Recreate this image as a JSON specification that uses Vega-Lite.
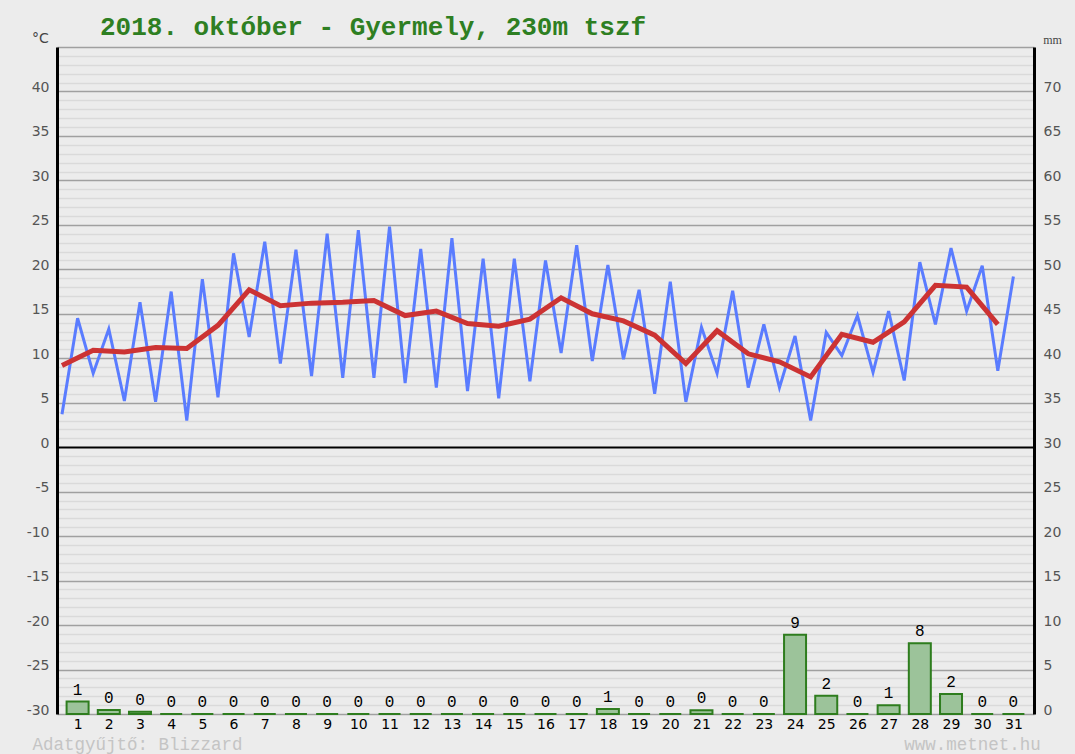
{
  "$schema": "https://vega.github.io/schema/vega-lite/v6.json",
  "width": 977,
  "height": 667,
  "autosize": {"type": "none"},
  "padding": {"left": 57, "top": 47, "right": 41, "bottom": 40},
  "background": "#ececec",
  "config": {"view": {"stroke": null}},
  "title": {
    "text": "2018. október - Gyermely, 230m tszf",
    "font": "Liberation Mono",
    "fontSize": 26,
    "fontWeight": "bold",
    "color": "#2e7f22",
    "anchor": "start",
    "frame": "group",
    "dx": 43,
    "offset": -9
  },
  "datasets": {
    "temps": [
      {"t": 0.5, "temp": 3.7}, {"t": 1, "temp": 14.5}, {"t": 1.5, "temp": 8.3}, {"t": 2, "temp": 13.3},
      {"t": 2.5, "temp": 5.2}, {"t": 3, "temp": 16.3}, {"t": 3.5, "temp": 5.1}, {"t": 4, "temp": 17.5},
      {"t": 4.5, "temp": 3.0}, {"t": 5, "temp": 18.9}, {"t": 5.5, "temp": 5.6}, {"t": 6, "temp": 21.8},
      {"t": 6.5, "temp": 12.4}, {"t": 7, "temp": 23.1}, {"t": 7.5, "temp": 9.4}, {"t": 8, "temp": 22.2},
      {"t": 8.5, "temp": 8.0}, {"t": 9, "temp": 24.0}, {"t": 9.5, "temp": 7.8}, {"t": 10, "temp": 24.4},
      {"t": 10.5, "temp": 7.8}, {"t": 11, "temp": 24.8}, {"t": 11.5, "temp": 7.2}, {"t": 12, "temp": 22.3},
      {"t": 12.5, "temp": 6.7}, {"t": 13, "temp": 23.5}, {"t": 13.5, "temp": 6.3}, {"t": 14, "temp": 21.2},
      {"t": 14.5, "temp": 5.5}, {"t": 15, "temp": 21.2}, {"t": 15.5, "temp": 7.4}, {"t": 16, "temp": 21.0},
      {"t": 16.5, "temp": 10.6}, {"t": 17, "temp": 22.7}, {"t": 17.5, "temp": 9.7}, {"t": 18, "temp": 20.5},
      {"t": 18.5, "temp": 9.9}, {"t": 19, "temp": 17.7}, {"t": 19.5, "temp": 6.0}, {"t": 20, "temp": 18.6},
      {"t": 20.5, "temp": 5.1}, {"t": 21, "temp": 13.5}, {"t": 21.5, "temp": 8.3}, {"t": 22, "temp": 17.6},
      {"t": 22.5, "temp": 6.7}, {"t": 23, "temp": 13.8}, {"t": 23.5, "temp": 6.7}, {"t": 24, "temp": 12.5},
      {"t": 24.5, "temp": 3.0}, {"t": 25, "temp": 12.9}, {"t": 25.5, "temp": 10.3}, {"t": 26, "temp": 14.8},
      {"t": 26.5, "temp": 8.4}, {"t": 27, "temp": 15.3}, {"t": 27.5, "temp": 7.5}, {"t": 28, "temp": 20.8},
      {"t": 28.5, "temp": 13.8}, {"t": 29, "temp": 22.4}, {"t": 29.5, "temp": 15.3}, {"t": 30, "temp": 20.4},
      {"t": 30.5, "temp": 8.6}, {"t": 31, "temp": 19.2}
    ],
    "means": [
      {"t": 0.5, "mean": 9.2}, {"t": 1.5, "mean": 10.9}, {"t": 2.5, "mean": 10.7}, {"t": 3.5, "mean": 11.2},
      {"t": 4.5, "mean": 11.1}, {"t": 5.5, "mean": 13.7}, {"t": 6.5, "mean": 17.7}, {"t": 7.5, "mean": 15.9},
      {"t": 8.5, "mean": 16.2}, {"t": 9.5, "mean": 16.3}, {"t": 10.5, "mean": 16.5}, {"t": 11.5, "mean": 14.8},
      {"t": 12.5, "mean": 15.3}, {"t": 13.5, "mean": 13.9}, {"t": 14.5, "mean": 13.6}, {"t": 15.5, "mean": 14.4},
      {"t": 16.5, "mean": 16.8}, {"t": 17.5, "mean": 15.0}, {"t": 18.5, "mean": 14.2}, {"t": 19.5, "mean": 12.6},
      {"t": 20.5, "mean": 9.4}, {"t": 21.5, "mean": 13.1}, {"t": 22.5, "mean": 10.5}, {"t": 23.5, "mean": 9.6},
      {"t": 24.5, "mean": 7.9}, {"t": 25.5, "mean": 12.7}, {"t": 26.5, "mean": 11.8}, {"t": 27.5, "mean": 14.1},
      {"t": 28.5, "mean": 18.2}, {"t": 29.5, "mean": 18.0}, {"t": 30.5, "mean": 13.8}
    ],
    "precip": [
      {"day": 1, "mm": 1.4}, {"day": 2, "mm": 0.45}, {"day": 3, "mm": 0.25}, {"day": 4, "mm": 0},
      {"day": 5, "mm": 0}, {"day": 6, "mm": 0}, {"day": 7, "mm": 0}, {"day": 8, "mm": 0},
      {"day": 9, "mm": 0}, {"day": 10, "mm": 0}, {"day": 11, "mm": 0}, {"day": 12, "mm": 0},
      {"day": 13, "mm": 0}, {"day": 14, "mm": 0}, {"day": 15, "mm": 0}, {"day": 16, "mm": 0},
      {"day": 17, "mm": 0}, {"day": 18, "mm": 0.56}, {"day": 19, "mm": 0}, {"day": 20, "mm": 0},
      {"day": 21, "mm": 0.42}, {"day": 22, "mm": 0}, {"day": 23, "mm": 0}, {"day": 24, "mm": 8.9},
      {"day": 25, "mm": 2.05}, {"day": 26, "mm": 0}, {"day": 27, "mm": 0.97}, {"day": 28, "mm": 7.95},
      {"day": 29, "mm": 2.25}, {"day": 30, "mm": 0}, {"day": 31, "mm": 0}
    ]
  },
  "layer": [
    {
      "layer": [
        {
          "data": {"name": "temps"},
          "mark": {"type": "line", "color": "#5a7cff", "strokeWidth": 3, "strokeJoin": "miter"},
          "encoding": {
            "x": {
              "field": "t", "type": "quantitative",
              "scale": {"domain": [0.5, 31.5], "nice": false, "zero": false},
              "axis": {
                "values": [1,2,3,4,5,6,7,8,9,10,11,12,13,14,15,16,17,18,19,20,21,22,23,24,25,26,27,28,29,30,31],
                "tickCount": 200, "format": "d",
                "grid": false, "ticks": false, "domain": false,
                "labelColor": "#000000", "labelFont": "DejaVu Sans", "labelFontSize": 14,
                "labelPadding": 3, "labelOverlap": false, "labelFlush": false,
                "title": "Adatgyűjtő: Blizzard\u00a0\u00a0\u00a0\u00a0\u00a0\u00a0\u00a0\u00a0\u00a0\u00a0\u00a0\u00a0\u00a0\u00a0\u00a0\u00a0\u00a0\u00a0\u00a0\u00a0\u00a0\u00a0\u00a0\u00a0\u00a0\u00a0\u00a0\u00a0\u00a0\u00a0\u00a0\u00a0\u00a0\u00a0\u00a0\u00a0\u00a0\u00a0\u00a0\u00a0\u00a0\u00a0\u00a0\u00a0\u00a0\u00a0\u00a0\u00a0\u00a0\u00a0\u00a0\u00a0\u00a0\u00a0\u00a0\u00a0\u00a0\u00a0\u00a0\u00a0\u00a0\u00a0\u00a0www.metnet.hu",
                "titleFont": "Liberation Mono", "titleFontSize": 17.5, "titleFontWeight": "normal",
                "titleColor": "#c4c4c4", "titleAlign": "left", "titleAnchor": null,
                "titleX": -25, "titleY": 35, "titleBaseline": "alphabetic"
              }
            },
            "y": {
              "field": "temp", "type": "quantitative",
              "scale": {"domain": [-30, 45], "nice": false, "zero": false},
              "axis": {
                "values": [-30,-29,-28,-27,-26,-25,-24,-23,-22,-21,-20,-19,-18,-17,-16,-15,-14,-13,-12,-11,-10,-9,-8,-7,-6,-5,-4,-3,-2,-1,0,1,2,3,4,5,6,7,8,9,10,11,12,13,14,15,16,17,18,19,20,21,22,23,24,25,26,27,28,29,30,31,32,33,34,35,36,37,38,39,40,41,42,43,44,45],
                "tickCount": 200, "format": "d",
                "labelExpr": "datum.value % 5 === 0 && datum.value <= 40 ? replace(datum.label, '−', '-') : ''",
                "labelOverlap": false, "labelFlush": false,
                "labelBaseline": "alphabetic",
                "labelColor": "#555555", "labelFont": "DejaVu Sans", "labelFontSize": 14, "labelPadding": 8,
                "ticks": false,
                "domain": true, "domainColor": "#000000", "domainWidth": 3,
                "grid": true,
                "gridColor": {"condition": [{"test": "datum.value === 0", "value": "#000000"}, {"test": "datum.value % 5 === 0", "value": "#a0a0a0"}], "value": "#dadada"},
                "gridWidth": {"condition": {"test": "datum.value === 0", "value": 2}, "value": 1.5},
                "title": "°C", "titleAngle": 0, "titleX": -17, "titleY": -5,
                "titleAlign": "center", "titleBaseline": "alphabetic",
                "titleFont": "DejaVu Sans", "titleFontSize": 14, "titleFontWeight": "normal", "titleColor": "#444444"
              }
            }
          }
        },
        {
          "data": {"name": "means"},
          "mark": {"type": "line", "color": "#cc3333", "strokeWidth": 5},
          "encoding": {
            "x": {"field": "t", "type": "quantitative"},
            "y": {"field": "mean", "type": "quantitative"}
          }
        }
      ]
    },
    {
      "data": {"name": "precip"},
      "layer": [
        {
          "mark": {"type": "bar", "width": 22, "fill": "#9cc39a", "stroke": "#2e7d1e", "strokeWidth": 2},
          "encoding": {
            "x": {"field": "day", "type": "quantitative"},
            "y": {
              "field": "mm", "type": "quantitative",
              "scale": {"domain": [0, 75], "nice": false, "zero": true},
              "axis": {
                "orient": "right",
                "values": [0,5,10,15,20,25,30,35,40,45,50,55,60,65,70],
                "tickCount": 200, "format": "d",
                "labelBaseline": "alphabetic", "labelOverlap": false, "labelFlush": false,
                "labelColor": "#555555", "labelFont": "DejaVu Sans", "labelFontSize": 14, "labelPadding": 9,
                "ticks": false, "grid": false,
                "domain": true, "domainColor": "#000000", "domainWidth": 3,
                "title": "mm", "titleAngle": 0, "titleX": 18, "titleY": -4,
                "titleAlign": "center", "titleBaseline": "alphabetic",
                "titleFont": "Liberation Serif", "titleFontSize": 12, "titleFontWeight": "normal", "titleColor": "#444444"
              }
            }
          }
        },
        {
          "mark": {"type": "text", "baseline": "bottom", "dy": -4, "font": "Liberation Mono", "fontSize": 16, "color": "#000000"},
          "encoding": {
            "x": {"field": "day", "type": "quantitative"},
            "y": {"field": "mm", "type": "quantitative"},
            "text": {"field": "mm", "type": "quantitative", "format": ".0f"}
          }
        }
      ]
    }
  ],
  "resolve": {"scale": {"y": "independent"}}
}
